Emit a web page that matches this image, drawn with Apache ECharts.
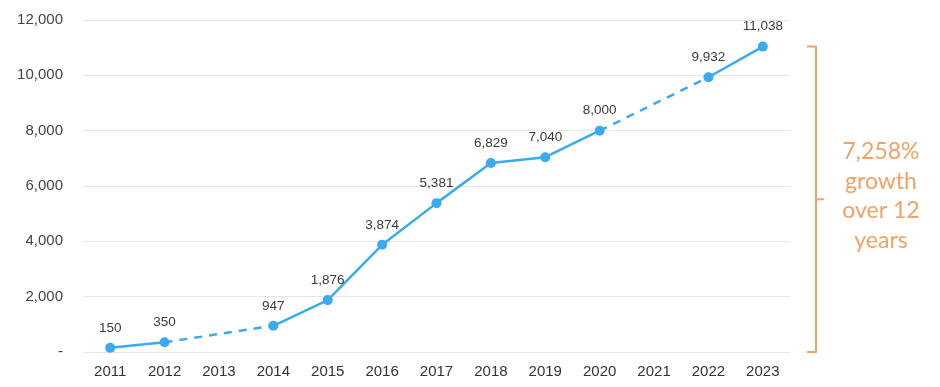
<!DOCTYPE html>
<html><head><meta charset="utf-8">
<script src="https://cdn.jsdelivr.net/npm/echarts@6/dist/echarts.min.js"></script>
<style>html,body{margin:0;padding:0;background:#fff}#c{width:940px;height:387px}</style>
</head><body><div id="c"></div>
<script>
const years = ['2011','2012','2013','2014','2015','2016','2017','2018','2019','2020','2021','2022','2023'];
const users = [150, 350, null, 947, 1876, 3874, 5381, 6829, 7040, 8000, null, 9932, 11038];
const yTicks = [0, 2000, 4000, 6000, 8000, 10000, 12000];
const growthText = ['7,258%', 'growth', 'over 12', 'years'];

const BLUE = '#3aabf0';
const ORANGE = '#f2a263';

// dashed bridges over missing years, built from the data
const bridges = [];
users.forEach((v, i) => {
  if (v === null && i > 0 && i < users.length - 1) {
    const d = users.map(() => null);
    d[i - 1] = users[i - 1];
    d[i + 1] = users[i + 1];
    bridges.push(d);
  }
});

const chart = echarts.init(document.getElementById('c'));
const series = [{
  type: 'line', data: users, connectNulls: false,
  symbol: 'circle', symbolSize: 10,
  itemStyle: { color: BLUE }, lineStyle: { color: BLUE, width: 2.5 },
  label: { show: true, position: 'top', distance: 8, color: '#3a3a3a', fontSize: 13.5, fontFamily: 'Liberation Sans, Arial',
    formatter: p => p.value == null ? '' : p.value.toLocaleString('en-US') },
  z: 3
}];
bridges.forEach(d => series.push({
  type: 'line', data: d, connectNulls: true, symbol: 'none',
  lineStyle: { color: BLUE, width: 2.5, type: [8, 7] }, z: 2, silent: true
}));

chart.setOption({
  animation: false,
  grid: { left: 83, right: 150, top: 20, bottom: 35 },
  xAxis: {
    type: 'category', data: years, boundaryGap: true,
    axisLine: { show: false }, axisTick: { show: false },
    axisLabel: { color: '#333', fontSize: 15, margin: 12, fontFamily: 'Liberation Sans, Arial' }
  },
  yAxis: {
    type: 'value', min: yTicks[0], max: yTicks[yTicks.length - 1], interval: 2000,
    axisLine: { show: false }, axisTick: { show: false },
    splitLine: { lineStyle: { color: '#e6e6e6', width: 1 } },
    axisLabel: { color: '#444', fontSize: 15, margin: 20, fontFamily: 'Liberation Sans, Arial',
      formatter: v => v === 0 ? '-' : v.toLocaleString('en-US') }
  },
  series: series
});

// bracket spanning first to last value
const last = users[users.length - 1];
const yTop = chart.convertToPixel({ yAxisIndex: 0 }, last);
const yBot = chart.convertToPixel({ yAxisIndex: 0 }, 0);
const xb = 816;
const yMid = (yTop + yBot) / 2;
chart.setOption({
  graphic: [
    { type: 'polyline', shape: { points: [[807, yTop], [xb, yTop], [xb, yBot], [807, yBot]] },
      style: { stroke: ORANGE, lineWidth: 2, fill: null } },
    { type: 'line', shape: { x1: xb, y1: yMid, x2: xb + 8, y2: yMid },
      style: { stroke: ORANGE, lineWidth: 2 } },
    { type: 'text', x: 881, y: yMid - 3, style: {
        text: growthText.join('\n'), fill: ORANGE, fontSize: 23, lineHeight: 29.5,
        fontFamily: 'Lato, Open Sans', fontWeight: 400, align: 'center', verticalAlign: 'middle' } }
  ]
});
</script></body></html>
